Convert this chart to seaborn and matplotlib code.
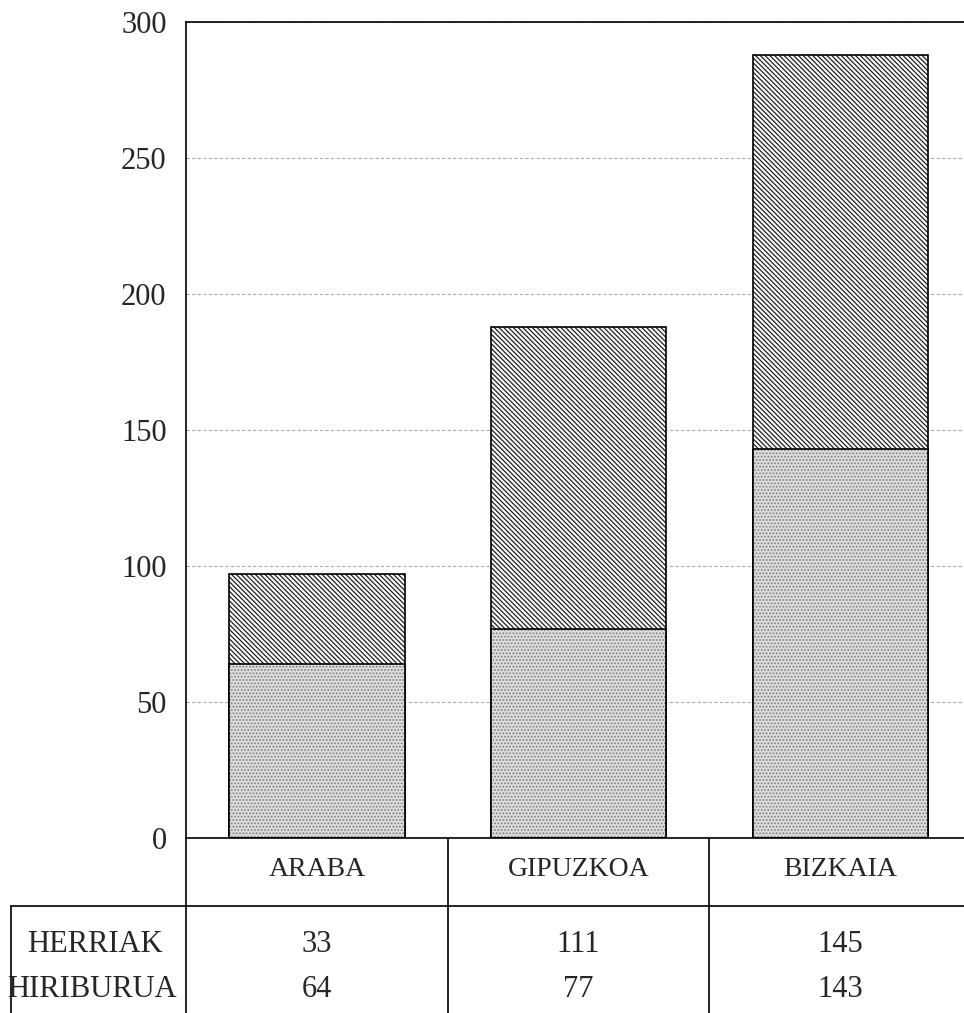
import pandas as pd
import matplotlib.pyplot as plt
import seaborn as sns

# datuak
probintziak = ['ARABA', 'GIPUZKOA', 'BIZKAIA']
herriak = [33, 111, 145]
hiriburua = [64, 77, 143]
yticks = [0, 50, 100, 150, 200, 250, 300]

df = pd.DataFrame({'probintzia': probintziak, 'herriak': herriak, 'hiriburua': hiriburua})
df['guztira'] = df['herriak'] + df['hiriburua']

sns.set_style('white')
plt.rcParams['font.family'] = ['Liberation Serif', 'DejaVu Serif']
plt.rcParams['hatch.linewidth'] = 0.9

fig = plt.figure(figsize=(9.64, 10.13), dpi=100)
ax = fig.add_axes([0.193, 0.1727, 0.807, 0.8056])

# goiko zatia (herriak) guztizkoaren barra gisa, gero hiriburua gainean
sns.barplot(data=df, x='probintzia', y='guztira', order=probintziak, color='white',
            width=0.67, edgecolor='black', linewidth=1.2, ax=ax)
n = len(ax.patches)
sns.barplot(data=df, x='probintzia', y='hiriburua', order=probintziak, color='#dcdcdc',
            width=0.67, edgecolor='black', linewidth=1.2, ax=ax)
for p in ax.patches[:n]:
    p.set_hatch('\\' * 7)
    p._hatch_color = (0.12, 0.12, 0.12, 1)
for p in ax.patches[n:]:
    p.set_hatch('.' * 5)
    p.set_facecolor('#dedede')
    p._hatch_color = (0.5, 0.5, 0.5, 1)

ax.set_xlim(-0.5, 2.473)
ax.set_ylim(0, 300)
ax.set_yticks(yticks)
ax.set_yticklabels([str(t) for t in yticks], fontsize=22)
ax.set_xticks(range(len(probintziak)))
ax.set_xticklabels([])
ax.tick_params(axis='x', direction='in', length=9, width=1.2, color='black')
ax.tick_params(axis='y', direction='in', length=8, width=1, pad=14)
ax.set_xlabel('')
ax.set_ylabel('')
ax.yaxis.grid(True, linestyle=(0, (3, 2)), color='#aaaaaa', linewidth=0.8)
ax.set_axisbelow(True)
for s in ['top', 'left', 'bottom']:
    ax.spines[s].set_color('black')
    ax.spines[s].set_linewidth(1.2)
ax.spines['right'].set_visible(False)

# taula azpian
trans = ax.get_xaxis_transform()
bottom = -0.215
# ardatz bertikala behera luzatu
ax.plot([-0.5, -0.5], [0, bottom], transform=trans, color='black', lw=1.2, clip_on=False)
for xd in [0.5, 1.5]:
    ax.plot([xd, xd], [0, bottom], transform=trans, color='black', lw=1.2, clip_on=False)
ax.plot([-1.17, 2.473], [-0.0833, -0.0833], transform=trans, color='black', lw=1.2, clip_on=False)
ax.plot([-1.17, -1.17], [-0.0833, bottom], transform=trans, color='black', lw=1.2, clip_on=False)

for i, name in enumerate(probintziak):
    ax.text(i, -0.039, name, transform=trans, ha='center', va='center', fontsize=20)
    ax.text(i, -0.131, str(herriak[i]), transform=trans, ha='center', va='center', fontsize=22)
    ax.text(i, -0.186, str(hiriburua[i]), transform=trans, ha='center', va='center', fontsize=22)
ax.text(-0.85, -0.131, 'HERRIAK', transform=trans, ha='center', va='center', fontsize=22)
ax.text(-0.86, -0.186, 'HIRIBURUA', transform=trans, ha='center', va='center', fontsize=22)

fig.savefig('out.png', dpi=100)
